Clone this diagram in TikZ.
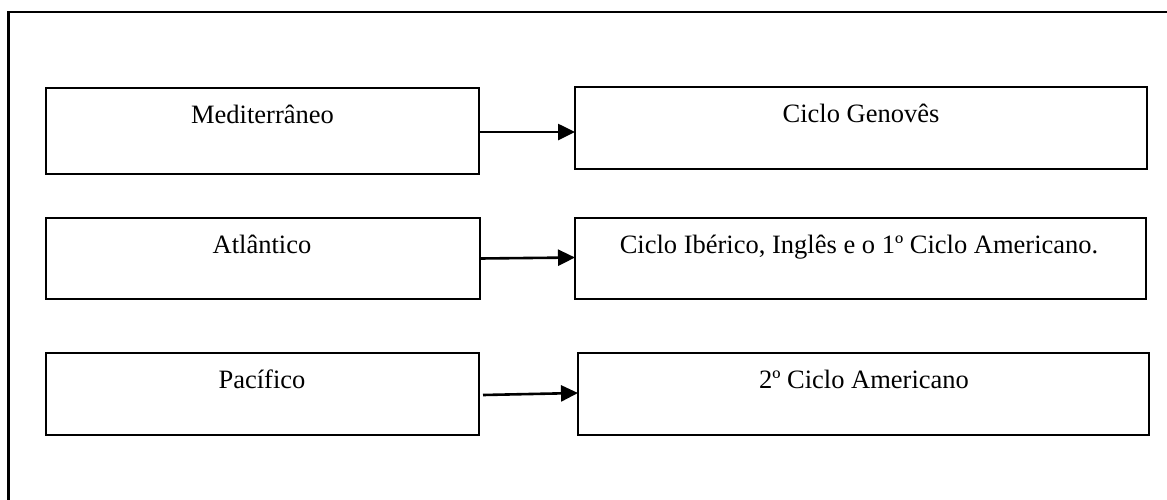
\documentclass[tikz,border=0pt]{standalone}
\usepackage{fontspec}
\setmainfont{Liberation Serif}
\usetikzlibrary{arrows.meta}
\tikzset{
  box/.style={draw, line width=2.5pt, rectangle, inner sep=0pt, outer sep=0pt},
  lbl/.style={anchor=base, inner sep=0pt, font=\fontsize{26.5}{30}\selectfont},
  arr/.style={line width=2.6pt, -{Triangle[length=17pt,width=16pt]}}
}
\begin{document}
\begin{tikzpicture}[x=1pt,y=-1pt]
\useasboundingbox (0,0) rectangle (1167,499);
% page frame (runs off the right and bottom edges)
\draw[line width=2.5pt] (8.5,12) rectangle (1190,530);

% left column
\node[box, minimum width=433pt, minimum height=86pt] (b1) at (262.5,131) {};
\node[box, minimum width=434pt, minimum height=81pt] (b3) at (263,258.5) {};
\node[box, minimum width=433pt, minimum height=82pt] (b5) at (262.5,394) {};
% right column
\node[box, minimum width=572pt, minimum height=82pt] (b2) at (861,128) {};
\node[box, minimum width=571pt, minimum height=81pt] (b4) at (860.5,258.5) {};
\node[box, minimum width=571pt, minimum height=82pt] (b6) at (863.5,394) {};

% labels
\node[lbl] (t1) at (262.5,123) {Mediterrâneo};
\node[lbl] (t2) at (861,122) {Ciclo Genovês};
\node[lbl] (t3) at (262,253) {Atlântico};
\node[lbl] (t4) at (859,253) {Ciclo Ibérico, Inglês e o 1º Ciclo Americano.};
\node[lbl] (t5) at (262,388) {Pacífico};
\node[lbl] (t6) at (864,388) {2º Ciclo Americano};

% connectors
\draw[arr] ([yshift=-1pt]b1.east) -- ([yshift=-1pt]b1.east -| b2.west);
\draw[arr] (b3.east) -- ([yshift=1pt]b3.east -| b4.west);
\draw[arr] ([xshift=4pt,yshift=-1pt]b5.east) -- ([yshift=1pt]b5.east -| b6.west);
\end{tikzpicture}
\end{document}
